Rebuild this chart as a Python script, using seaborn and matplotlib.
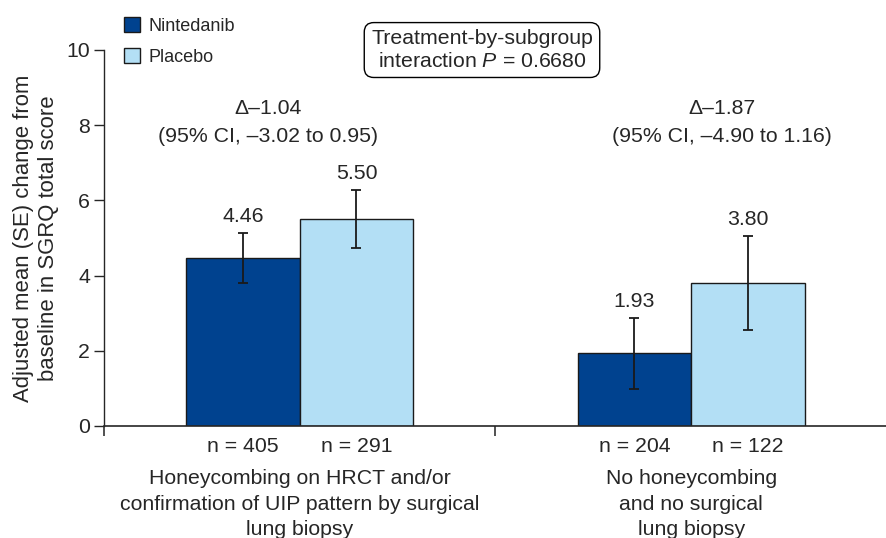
import matplotlib
matplotlib.use("Agg")
import matplotlib.pyplot as plt
from matplotlib.patches import Patch
import seaborn as sns
import pandas as pd

# ---- data ----
groups = ["Honeycombing on HRCT and/or\nconfirmation of UIP pattern by surgical\nlung biopsy",
          "No honeycombing\nand no surgical\nlung biopsy"]
treatments = ["Nintedanib", "Placebo"]
nintedanib_mean = [4.46, 1.93]
placebo_mean = [5.50, 3.80]
nintedanib_se = [0.66, 0.95]
placebo_se = [0.77, 1.24]
nintedanib_n = [405, 204]
placebo_n = [291, 122]
delta_text = ["Δ–1.04\n(95% CI, –3.02 to 0.95)", "Δ–1.87\n(95% CI, –4.90 to 1.16)"]
interaction_text = "Treatment-by-subgroup\ninteraction $P$ = 0.6680"
ylabel = "Adjusted mean (SE) change from\nbaseline in SGRQ total score"
yticks = [0, 2, 4, 6, 8, 10]
colors = ["#00428f", "#b3dff5"]

# ---- style ----
sns.set_style("ticks")
plt.rcParams["font.family"] = ["Liberation Sans", "DejaVu Sans"]
plt.rcParams["mathtext.fontset"] = "custom"
plt.rcParams["mathtext.rm"] = "Liberation Sans"
plt.rcParams["mathtext.it"] = "Liberation Sans:italic"
FS = 15.3

df = pd.DataFrame({
    "group": groups * 2,
    "treatment": [treatments[0]] * len(groups) + [treatments[1]] * len(groups),
    "mean": nintedanib_mean + placebo_mean,
    "se": nintedanib_se + placebo_se,
    "n": nintedanib_n + placebo_n,
})

fig = plt.figure(figsize=(8.87, 5.38), dpi=100)
ax = fig.add_axes([0.1172, 0.2082, 0.8828, 0.699])

sns.barplot(data=df, x="group", y="mean", hue="treatment", order=groups,
            hue_order=treatments, palette=colors, width=0.58,
            edgecolor="#1a1a1a", linewidth=1.0, errorbar=None, ax=ax,
            legend=False, saturation=1)

# error bars, value labels and n labels
for cont, t in zip(ax.containers, treatments):
    sub = df[df["treatment"] == t].set_index("group").loc[groups]
    for bar, m, se, n in zip(cont, sub["mean"], sub["se"], sub["n"]):
        xc = bar.get_x() + bar.get_width() / 2
        ax.errorbar(xc, m, yerr=se, fmt="none", ecolor="#1a1a1a",
                    elinewidth=1.3, capsize=3.5, capthick=1.3, zorder=5)
        ax.annotate(f"{m:.2f}", xy=(xc, m + se), xytext=(0, 11),
                    textcoords="offset pixels", ha="center", va="baseline",
                    fontsize=FS)
        ax.annotate(f"n = {n}", xy=(xc, 0), xycoords=("data", "axes fraction"),
                    xytext=(0, -21), textcoords="offset pixels",
                    ha="center", va="center", fontsize=FS, annotation_clip=False)

# group labels
for i, g in enumerate(groups):
    ax.annotate(g, xy=(i, 0), xycoords=("data", "axes fraction"),
                xytext=(0, -43), textcoords="offset pixels",
                ha="center", va="top", fontsize=FS, linespacing=1.45,
                annotation_clip=False)

# delta annotations
for x, txt in zip([-0.08, 1.078], delta_text):
    ax.text(x, 8.08, txt, ha="center", va="center", fontsize=FS,
            linespacing=1.6)

# interaction box
fig.text(0.5434, 0.9070, interaction_text, ha="center", va="center",
         fontsize=FS, linespacing=1.22,
         bbox=dict(boxstyle="round,pad=0.32,rounding_size=0.45",
                   fc="white", ec="black", lw=1.0))

# axes
ax.set_xlim(-0.5, 1.5)
ax.set_ylim(0, 10)
ax.set_yticks(yticks)
ax.set_yticklabels([str(v) for v in yticks], fontsize=FS)
ax.set_xticks([-0.5, 0.5, 1.5])
ax.set_xticklabels([])
ax.tick_params(axis="x", direction="out", length=7, width=1.2, color="#333333")
ax.tick_params(axis="y", direction="out", length=7, width=1.0, pad=3)
ax.set_xlabel("")
ax.set_ylabel(ylabel, fontsize=15.9, linespacing=1.2)
ax.yaxis.set_label_coords(-0.058, 0.5)
sns.despine(ax=ax, top=True, right=True)
ax.spines["left"].set_linewidth(1.0)
ax.spines["bottom"].set_linewidth(1.2)

# legend
handles = [Patch(facecolor=c, edgecolor="#1a1a1a", linewidth=1.0) for c in colors]
fig.legend(handles, treatments, loc="upper left",
           bbox_to_anchor=(124 / 887, 1 - 17 / 538), bbox_transform=fig.transFigure,
           frameon=False, fontsize=13, handlelength=0.9, handleheight=0.9,
           handletextpad=0.45, labelspacing=0.75, borderpad=0, borderaxespad=0)

fig.savefig("out.png", dpi=100)
